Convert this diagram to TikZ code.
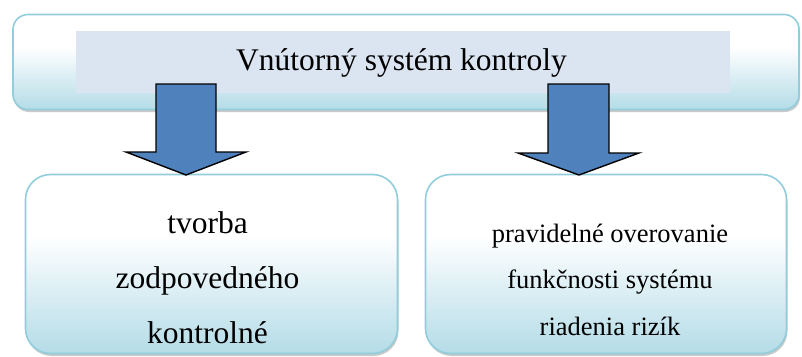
\documentclass[tikz,border=0pt]{standalone}
\usepackage{fontspec}
\setmainfont{Liberation Serif}
\newfontfamily\labelface{Liberation Serif}
\usetikzlibrary{shadows}

\definecolor{boxline}{RGB}{146,205,220}
\definecolor{boxbottom}{RGB}{180,220,231}
\definecolor{innerfill}{RGB}{219,229,241}
\definecolor{arrowfill}{RGB}{79,129,189}

% white in the upper part, fading to light blue at the bottom
\pgfdeclareverticalshading{panelshade}{100bp}{%
  color(0bp)=(boxbottom); color(25bp)=(boxbottom);
  color(58bp)=(white); color(100bp)=(white)}

\begin{document}
\begin{tikzpicture}[x=1pt,y=-1pt,
  panel/.style={draw=boxline,line width=1.6pt,shading=panelshade,
    drop shadow={shadow xshift=1pt,shadow yshift=-2.5pt,fill=gray!70,opacity=0.6}},
  titlebar/.style={fill=innerfill,inner sep=0pt},
  bigtext/.style={font=\labelface\fontsize{31.5}{38}\selectfont,inner sep=0pt,anchor=base},
  smalltext/.style={font=\labelface\fontsize{26.5}{32}\selectfont,inner sep=0pt,anchor=base},
  blockarrow/.style={fill=arrowfill,draw=black,line width=1.4pt,line join=miter}]

\useasboundingbox (0,0) rectangle (802,356);

% top panel with its title bar
\node[panel,rounded corners=15pt,minimum width=786pt,minimum height=95pt] (top) at (406,62) {};
\node[titlebar,minimum width=654pt,minimum height=62pt] (bar) at (403,62) {};
\node[bigtext] (title) at (401.5,70) {Vnútorný systém kontroly};

% lower panels
\node[panel,rounded corners=25pt,minimum width=372pt,minimum height=179pt] (left) at (211.5,264) {};
\node[panel,rounded corners=25pt,minimum width=361pt,minimum height=179pt] (right) at (606,264) {};

\node[bigtext] (l1) at (207.5,233) {tvorba};
\node[bigtext] (l2) at (207.5,288) {zodpovedného};
\node[bigtext] (l3) at (207.5,343) {kontrolné};

\node[smalltext] (r1) at (610,242) {pravidelné overovanie};
\node[smalltext] (r2) at (610,288) {funkčnosti systému};
\node[smalltext] (r3) at (610,335) {riadenia rizík};

% block arrows from the top panel down to the lower panels
\draw[blockarrow] (156,84) -- (216,84) -- (216,152) -- (246,152) -- (186,175)
  -- (126,152) -- (156,152) -- cycle;
\draw[blockarrow] (548,84) -- (609,84) -- (609,153) -- (639,153) -- (579,175)
  -- (518,153) -- (548,153) -- cycle;
\end{tikzpicture}
\end{document}
